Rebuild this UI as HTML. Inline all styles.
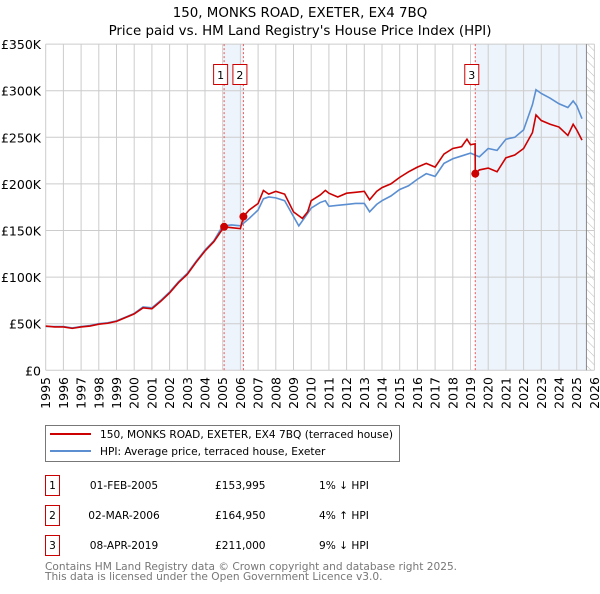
<!DOCTYPE html>
<html><head><meta charset="utf-8"><style>
body{margin:0;background:#fff;width:600px;height:590px;overflow:hidden;font-family:"DejaVu Sans","Liberation Sans",sans-serif;}
svg text{font-family:"DejaVu Sans","Liberation Sans",sans-serif;}
</style></head><body>
<svg id="chart" width="600" height="590" xmlns="http://www.w3.org/2000/svg">
<defs><pattern id="hatch" width="6" height="6" patternUnits="userSpaceOnUse" patternTransform="rotate(-45)"><line x1="0" y1="0" x2="0" y2="6" stroke="#bbb" stroke-width="1"/></pattern></defs>
<text x="300" y="17" text-anchor="middle" font-size="13.4">150, MONKS ROAD, EXETER, EX4 7BQ</text>
<text x="300" y="35" text-anchor="middle" font-size="13.4">Price paid vs. HM Land Registry's House Price Index (HPI)</text>
<g id="plot"></g>
<g>
<rect x="45.5" y="425.5" width="354" height="36" fill="#fff" stroke="#777"/>
<line x1="50" y1="434" x2="91" y2="434" stroke="#cc0000" stroke-width="2"/>
<text x="100" y="438" font-size="10.6">150, MONKS ROAD, EXETER, EX4 7BQ (terraced house)</text>
<line x1="50" y1="451" x2="91" y2="451" stroke="#5b8fd1" stroke-width="2"/>
<text x="100" y="455" font-size="10.6">HPI: Average price, terraced house, Exeter</text>
</g>
<g font-size="10.6">
<rect x="45.5" y="475.5" width="14" height="20" fill="none" stroke="#cc0000"/><text x="52.5" y="489" text-anchor="middle">1</text>
<text x="124" y="489" text-anchor="middle">01-FEB-2005</text><text x="215" y="489">£153,995</text><text x="319" y="489">1% ↓ HPI</text>
<rect x="45.5" y="505.5" width="14" height="20" fill="none" stroke="#cc0000"/><text x="52.5" y="519" text-anchor="middle">2</text>
<text x="124" y="519" text-anchor="middle">02-MAR-2006</text><text x="215" y="519">£164,950</text><text x="319" y="519">4% ↑ HPI</text>
<rect x="45.5" y="535.5" width="14" height="20" fill="none" stroke="#cc0000"/><text x="52.5" y="549" text-anchor="middle">3</text>
<text x="124" y="549" text-anchor="middle">08-APR-2019</text><text x="215" y="549">£211,000</text><text x="319" y="549">9% ↓ HPI</text>
</g>
<text x="45" y="570" font-size="10.6" fill="#777">Contains HM Land Registry data © Crown copyright and database right 2025.</text>
<text x="45" y="580" font-size="10.6" fill="#777">This data is licensed under the Open Government Licence v3.0.</text>
</svg>
<script>
const yTicks=[0,50000,100000,150000,200000,250000,300000,350000];
const yTickLabels=["£0","£50K","£100K","£150K","£200K","£250K","£300K","£350K"];
const xYears=[1995,1996,1997,1998,1999,2000,2001,2002,2003,2004,2005,2006,2007,2008,2009,2010,2011,2012,2013,2014,2015,2016,2017,2018,2019,2020,2021,2022,2023,2024,2025,2026];
const hpiYears=[1995,1995.5,1996,1996.5,1997,1997.5,1998,1998.5,1999,1999.5,2000,2000.5,2001,2001.5,2002,2002.5,2003,2003.5,2004,2004.5,2005,2005.5,2006,2006.5,2007,2007.3,2007.6,2008,2008.5,2009,2009.3,2009.6,2010,2010.5,2010.8,2011,2011.5,2012,2012.5,2013,2013.3,2013.7,2014,2014.5,2015,2015.5,2016,2016.5,2017,2017.5,2018,2018.5,2019,2019.5,2020,2020.5,2021,2021.5,2022,2022.5,2022.7,2023,2023.5,2024,2024.5,2024.8,2025,2025.3];
const hpiValues=[47,47,47,45.5,47,48,50,51,53,57,61,68,67,75,84,95,104,117,129,139,155,156,155,163,172,184,186,185,182,165,155,163,174,180,182,176,177,178,179,179,170,178,182,187,194,198,205,211,208,222,227,230,233,229,238,236,248,250,258,285,301,297,292,286,282,289,284,270];
const saleYears=[2005.08,2006.17,2019.27];
const saleValues=[153995,164950,211000];
const saleLabels=["1","2","3"];
const ppYears=[1995,1995.5,1996,1996.5,1997,1997.5,1998,1998.5,1999,1999.5,2000,2000.5,2001,2001.5,2002,2002.5,2003,2003.5,2004,2004.5,2005.08,2005.5,2006,2006.17,2006.5,2007,2007.3,2007.6,2008,2008.5,2009,2009.5,2009.8,2010,2010.5,2010.8,2011,2011.5,2012,2012.5,2013,2013.3,2013.7,2014,2014.5,2015,2015.5,2016,2016.5,2017,2017.5,2018,2018.5,2018.8,2019,2019.26,2019.27,2019.5,2020,2020.5,2021,2021.5,2022,2022.5,2022.7,2023,2023.5,2024,2024.5,2024.8,2025,2025.3];
const ppValues=[47.5,46.5,46.5,45,46.5,47.5,49.5,50.5,52.5,56.5,60.5,67,66,74,83,94,103,116,128,138,154,153,152,165,172,179,193,189,192,189,170,163,170,182,188,193,190,186,190,191,192,183,192,196,200,207,213,218,222,218,232,238,240,248,242,243,211,215,217,213,228,231,238,255,274,268,264,261,252,264,258,247];
const NS="http://www.w3.org/2000/svg";
const X0=45.7,YW=17.7,Y0=370.3,PXK=46.6/50000;
const xs=y=>X0+(y-1995)*YW, ys=v=>Y0-v*PXK;
const g=document.getElementById('plot');
function mk(t,a){const e=document.createElementNS(NS,t);for(const k in a)e.setAttribute(k,a[k]);g.appendChild(e);return e;}
const cutoff=2025.55;
let s=mk('rect',{x:xs(saleYears[0]),y:ys(350000),width:xs(saleYears[1])-xs(saleYears[0]),height:Y0-ys(350000),fill:'#eef4fc'});


s=mk('rect',{x:xs(saleYears[2]),y:ys(350000),width:xs(cutoff)-xs(saleYears[2]),height:Y0-ys(350000),fill:'#eef4fc'});


yTicks.forEach((v,i)=>{
 const l=mk('line',{x1:X0,x2:xs(2026),y1:ys(v),y2:ys(v),stroke:'#cccccc','stroke-width':1});
 
 
 const t=mk('text',{x:41,y:ys(v)+5,'text-anchor':'end','font-size':12.5});t.textContent=yTickLabels[i];
 
 
});
xYears.forEach(y=>{
 const l=mk('line',{x1:xs(y),x2:xs(y),y1:ys(350000),y2:Y0,stroke:'#cccccc','stroke-width':1});
 
 
 const t=mk('text',{x:0,y:0,'text-anchor':'end','font-size':12.5,transform:`translate(${xs(y)+4.5},377) rotate(-90)`});t.textContent=y;
 
 
});
const h=mk('rect',{x:xs(cutoff),y:ys(350000),width:xs(2026)-xs(cutoff),height:Y0-ys(350000),fill:'url(#hatch)'});


const cl=mk('line',{x1:xs(cutoff),x2:xs(cutoff),y1:ys(350000),y2:Y0,stroke:'#888','stroke-width':1});


saleYears.forEach((y,i)=>{
 const l=mk('line',{x1:xs(y),x2:xs(y),y1:ys(350000),y2:Y0,stroke:'#ee5555','stroke-width':1,'stroke-dasharray':'2,2'});
 
 
});
const hp=mk('polyline',{points:hpiYears.map((y,i)=>xs(y)+','+ys(hpiValues[i]*1000)).join(' '),fill:'none',stroke:'#5b8fd1','stroke-width':1.6});


const pp=mk('polyline',{points:ppYears.map((y,i)=>xs(y)+','+ys(ppValues[i]*1000)).join(' '),fill:'none',stroke:'#cc0000','stroke-width':1.6});


saleYears.forEach((y,i)=>{
 const c=mk('circle',{cx:xs(y),cy:ys(saleValues[i]),r:4,fill:'#cc0000'});
 
 
 const r=mk('rect',{x:xs(y)-10.5,y:64.5,width:14,height:20,fill:'#fff',stroke:'#cc0000'});
 
 
 const t=mk('text',{x:xs(y)-3.5,y:79,'text-anchor':'middle','font-size':11});t.textContent=saleLabels[i];
 
 
});
</script>
</body></html>
